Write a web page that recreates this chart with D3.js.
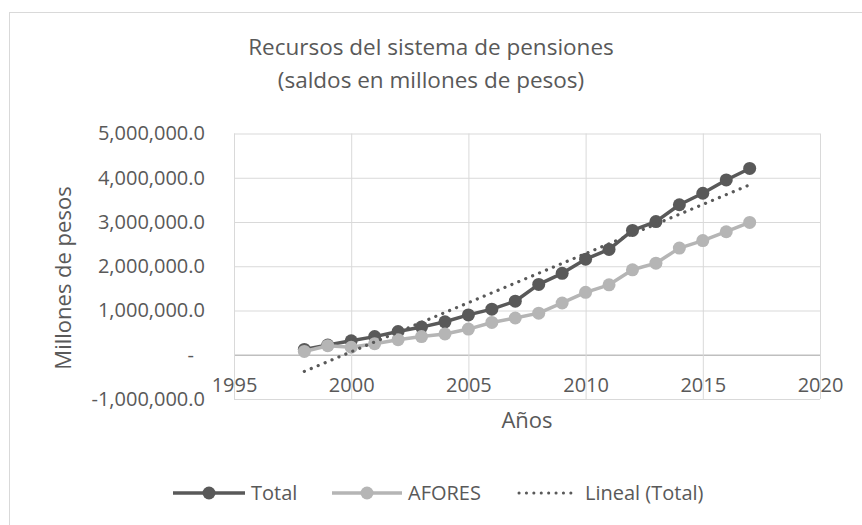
<!DOCTYPE html>
<html lang="es">
<head>
<meta charset="utf-8">
<script src="https://d3js.org/d3.v7.min.js"></script>
<style>
  body { margin: 0; background: #fff; }
  text { font-family: "Open Sans", sans-serif; fill: #595959; }
</style>
</head>
<body>
<script>
// datos
const years = [1998, 1999, 2000, 2001, 2002, 2003, 2004, 2005, 2006, 2007,
               2008, 2009, 2010, 2011, 2012, 2013, 2014, 2015, 2016, 2017];
const total = [120000, 220000, 316000, 410000, 526000, 625000, 745000, 900000, 1030000, 1210000,
               1590000, 1840000, 2160000, 2380000, 2810000, 3010000, 3390000, 3650000, 3950000, 4210000];
const afores = [75000, 205000, 170000, 250000, 340000, 410000, 470000, 580000, 730000, 830000,
                940000, 1170000, 1410000, 1580000, 1920000, 2070000, 2410000, 2580000, 2780000, 2990000];
// tendencia lineal (Total), extremos
const trendYears = [1998, 2017];
const trendValues = [-377000, 3840000];

const xTicks = [1995, 2000, 2005, 2010, 2015, 2020];
const yTicks = [-1000000, 0, 1000000, 2000000, 3000000, 4000000, 5000000];

const W = 862, H = 525;
const plotL = 234, plotR = 820, plotT = 133.5, plotB = 399;
const dark = "#595959", light = "#b5b5b5";

const svg = d3.select("body").append("svg")
    .attr("width", W)
    .attr("height", H);

// borde del area del grafico
svg.append("rect")
    .attr("x", 9.5).attr("y", 12.5)
    .attr("width", 900).attr("height", 600)
    .attr("fill", "#fff")
    .attr("stroke", "#d9d9d9");

const x = d3.scaleLinear().domain([1995, 2020]).range([plotL, plotR]);
const y = d3.scaleLinear().domain([-1000000, 5000000]).range([plotB, plotT]);

// cuadricula
svg.append("g")
    .attr("transform", "translate(" + plotL + ",0)")
    .call(d3.axisLeft(y).tickValues(yTicks).tickSize(-(plotR - plotL)).tickFormat(""))
    .call(g => g.select(".domain").remove())
    .call(g => g.selectAll(".tick line")
        .attr("stroke", d => d === 0 ? "#bfbfbf" : "#d9d9d9")
        .attr("stroke-width", d => d === 0 ? 1.5 : 1));

svg.append("g")
    .attr("transform", "translate(0," + plotB + ")")
    .call(d3.axisBottom(x).tickValues(xTicks).tickSize(-(plotB - plotT)).tickFormat(""))
    .call(g => g.select(".domain").remove())
    .call(g => g.selectAll(".tick line").attr("stroke", "#d9d9d9"));

// etiquetas eje Y (guion normal, como Excel)
const locale = d3.formatLocale({ decimal: ".", thousands: ",", grouping: [3], currency: ["$", ""], minus: "-" });
const fmt = locale.format(",.1f");
svg.append("g")
    .attr("transform", "translate(" + plotL + ",0)")
    .call(d3.axisLeft(y).tickValues(yTicks).tickSize(0).tickPadding(29)
        .tickFormat(d => d === 0 ? "-" : fmt(d)))
    .call(g => g.select(".domain").remove())
    .call(g => g.selectAll("text")
        .style("font-size", "20px")
        .attr("fill", dark)
        .attr("dx", d => d === 0 ? -11 : 0));

// etiquetas eje X
svg.append("g")
    .attr("transform", "translate(0," + y(0) + ")")
    .call(d3.axisBottom(x).tickValues(xTicks).tickSize(0).tickPadding(23).tickFormat(d3.format("d")))
    .call(g => g.select(".domain").remove())
    .call(g => g.selectAll("text").style("font-size", "20px").attr("fill", dark));

// titulos
svg.append("text")
    .attr("x", 431).attr("y", 55)
    .attr("text-anchor", "middle")
    .style("font-size", "22.5px")
    .text("Recursos del sistema de pensiones");
svg.append("text")
    .attr("x", 431).attr("y", 88)
    .attr("text-anchor", "middle")
    .style("font-size", "22.5px")
    .text("(saldos en millones de pesos)");

svg.append("text")
    .attr("transform", "translate(71," + 278 + ") rotate(-90)")
    .attr("text-anchor", "middle")
    .style("font-size", "22px")
    .text("Millones de pesos");

svg.append("text")
    .attr("x", (plotL + plotR) / 2).attr("y", 428)
    .attr("text-anchor", "middle")
    .style("font-size", "22px")
    .text("Años");

// series
const line = d3.line()
    .x((d, i) => x(years[i]))
    .y(d => y(d));

function drawSeries(values, color) {
    svg.append("path")
        .datum(values)
        .attr("fill", "none")
        .attr("stroke", color)
        .attr("stroke-width", 3.5)
        .attr("stroke-linejoin", "round")
        .attr("d", line);
    svg.append("g")
        .selectAll("circle")
        .data(values)
        .enter()
        .append("circle")
        .attr("cx", (d, i) => x(years[i]))
        .attr("cy", d => y(d))
        .attr("r", 6.5)
        .attr("fill", color);
}
drawSeries(total, dark);
drawSeries(afores, light);

// tendencia
svg.append("path")
    .datum(trendValues)
    .attr("fill", "none")
    .attr("stroke", dark)
    .attr("stroke-width", 3.2)
    .attr("stroke-linecap", "round")
    .attr("stroke-dasharray", "0.1 7.4")
    .attr("d", d3.line().x((d, i) => x(trendYears[i])).y(d => y(d)));

// leyenda
const ly = 493;
const legend = svg.append("g");
const items = [
    { name: "Total", color: dark, x0: 173, x1: 245, text: 251, dot: false },
    { name: "AFORES", color: light, x0: 332, x1: 402, text: 408, dot: false },
    { name: "Lineal (Total)", color: dark, x0: 519, x1: 578, text: 585, dot: true }
];
items.forEach(it => {
    if (it.dot) {
        legend.append("line")
            .attr("x1", it.x0).attr("x2", it.x1)
            .attr("y1", ly).attr("y2", ly)
            .attr("stroke", it.color)
            .attr("stroke-width", 3)
            .attr("stroke-linecap", "round")
            .attr("stroke-dasharray", "0.1 7.3");
    } else {
        legend.append("line")
            .attr("x1", it.x0).attr("x2", it.x1)
            .attr("y1", ly).attr("y2", ly)
            .attr("stroke", it.color)
            .attr("stroke-width", 3.5);
        legend.append("circle")
            .attr("cx", (it.x0 + it.x1) / 2).attr("cy", ly)
            .attr("r", 6.5)
            .attr("fill", it.color);
    }
    legend.append("text")
        .attr("x", it.text).attr("y", ly)
        .attr("dy", "0.35em")
        .style("font-size", "20px")
        .text(it.name);
});
</script>
</body>
</html>
